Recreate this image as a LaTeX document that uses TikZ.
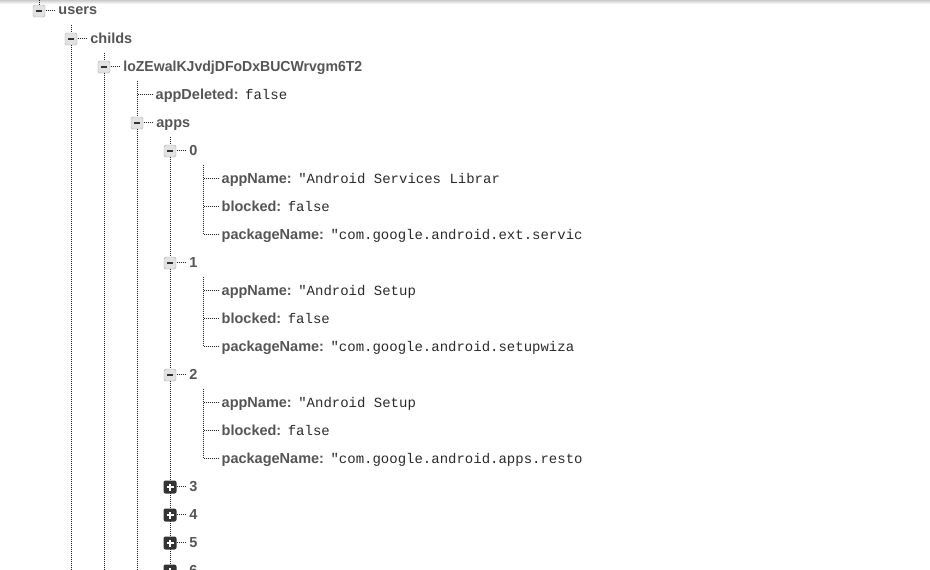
\documentclass[tikz,border=0pt]{standalone}
\usepackage{fontspec}
\setmainfont{Liberation Sans}
\newfontfamily\monofam{Liberation Mono}
\usepackage{tikz}
\usetikzlibrary{positioning}

\definecolor{keygray}{HTML}{555555}
\definecolor{valgray}{HTML}{2A2A2A}
\definecolor{dotgray}{HTML}{222222}
\definecolor{boxfill}{HTML}{E2E2E2}
\definecolor{boxline}{HTML}{AAAAAA}
\definecolor{boxdark}{HTML}{333333}

\newcommand{\fieldval}[1]{\hspace{6.5pt}{\monofam\mdseries\fontsize{14}{16}\selectfont\color{valgray}#1}}

\tikzset{
  open/.style={draw=boxline, fill=boxfill, rounded corners=1.5pt, minimum size=12pt, inner sep=0pt,
    path picture={\draw[boxdark, line width=2pt] ([xshift=-3pt]path picture bounding box.center) -- ([xshift=3pt]path picture bounding box.center);}},
  shut/.style={fill=boxdark, rounded corners=2pt, minimum size=13pt, inner sep=0pt,
    path picture={\draw[white, line width=2pt] ([xshift=-3.5pt]path picture bounding box.center) -- ([xshift=3.5pt]path picture bounding box.center);
      \draw[white, line width=2pt] ([yshift=-3.5pt]path picture bounding box.center) -- ([yshift=3.5pt]path picture bounding box.center);}},
  key/.style={inner sep=0pt, text height=11pt, text depth=3pt, text=keygray,
    font=\fontsize{14.5}{16}\selectfont\bfseries},
  guide/.style={draw=dotgray, line width=1pt, dash pattern=on 1pt off 1pt,
    transform canvas={xshift=0.5pt, yshift=0.5pt}},
  hook/.style={guide, shorten >=3pt},
}

\begin{document}
\begin{tikzpicture}[x=1pt, y=-1pt]
    \useasboundingbox (0,0) rectangle (930,570);
    \fill[top color=gray!40, bottom color=white] (0,0) rectangle (930,4);

    % upper levels
    \node(bu) [open] at (39,11) {};
    \node(tu) [key, right=13pt of bu] {users};
    \node(bc) [open] at (71,39) {};
    \node(tc) [key, right=13pt of bc] {childs};
    \node(bl) [open] at (104,67) {};
    \node(tl) [key, right=13pt of bl, xscale=0.97] {loZEwalKJvdjDFoDxBUCWrvgm6T2};
    \coordinate(ed) at (137,95);
    \node(td) [key, right=18.5pt of ed] {appDeleted:\fieldval{false}};
    \node(ba) [open] at (137,123) {};
    \node(ta) [key, right=13pt of ba] {apps};

    % app 0
    \node(b0) [open] at (170,151) {};
    \node(t0) [key, right=13pt of b0] {0};
    \coordinate(e0a) at (203,179);
    \node(t0a) [key, right=18.5pt of e0a] {appName:\fieldval{"Android Services Librar}};
    \coordinate(e0b) at (203,207);
    \node(t0b) [key, right=18.5pt of e0b] {blocked:\fieldval{false}};
    \coordinate(e0c) at (203,235);
    \node(t0c) [key, right=18.5pt of e0c] {packageName:\fieldval{"com.google.android.ext.servic}};

    % app 1
    \node(b1) [open] at (170,263) {};
    \node(t1) [key, right=13pt of b1] {1};
    \coordinate(e1a) at (203,291);
    \node(t1a) [key, right=18.5pt of e1a] {appName:\fieldval{"Android Setup}};
    \coordinate(e1b) at (203,319);
    \node(t1b) [key, right=18.5pt of e1b] {blocked:\fieldval{false}};
    \coordinate(e1c) at (203,347);
    \node(t1c) [key, right=18.5pt of e1c] {packageName:\fieldval{"com.google.android.setupwiza}};

    % app 2
    \node(b2) [open] at (170,375) {};
    \node(t2) [key, right=13pt of b2] {2};
    \coordinate(e2a) at (203,403);
    \node(t2a) [key, right=18.5pt of e2a] {appName:\fieldval{"Android Setup}};
    \coordinate(e2b) at (203,431);
    \node(t2b) [key, right=18.5pt of e2b] {blocked:\fieldval{false}};
    \coordinate(e2c) at (203,459);
    \node(t2c) [key, right=18.5pt of e2c] {packageName:\fieldval{"com.google.android.apps.resto}};

    % collapsed apps
    \node(b3) [shut] at (170,487) {};
    \node(t3) [key, right=12.5pt of b3] {3};
    \node(b4) [shut] at (170,515) {};
    \node(t4) [key, right=12.5pt of b4] {4};
    \node(b5) [shut] at (170,543) {};
    \node(t5) [key, right=12.5pt of b5] {5};
    \node(b6) [shut] at (170,571) {};
    \node(t6) [key, right=12.5pt of b6] {6};

    % column guides
    \coordinate(top) at (39,0);
    \coordinate(c1) at (71,25);
    \coordinate(c1end) at (71,575);
    \coordinate(c2) at (104,53);
    \coordinate(c2end) at (104,575);
    \coordinate(c3) at (137,81);
    \coordinate(c3end) at (137,575);
    \coordinate(c4) at (170,137);
    \coordinate(k0) at (203,165);
    \coordinate(k1) at (203,277);
    \coordinate(k2) at (203,389);

    \draw[guide] (top) -- (bu.north);
    \draw[guide] (c1) -- (bc.north);
    \draw[guide] (bc.south) -- (c1end);
    \draw[guide] (c2) -- (bl.north);
    \draw[guide] (bl.south) -- (c2end);
    \draw[guide] (c3) -- (ed) -- (ba.north);
    \draw[guide] (ba.south) -- (c3end);
    \draw[guide] (c4) -- (b0.north);
    \draw[guide] (b0.south) -- (b1.north);
    \draw[guide] (b1.south) -- (b2.north);
    \draw[guide] (b2.south) -- (b3.north);
    \draw[guide] (b3.south) -- (b4.north);
    \draw[guide] (b4.south) -- (b5.north);
    \draw[guide] (b5.south) -- (b6.north);
    \draw[guide] (k0) -- (e0a) -- (e0b) -- (e0c);
    \draw[guide] (k1) -- (e1a) -- (e1b) -- (e1c);
    \draw[guide] (k2) -- (e2a) -- (e2b) -- (e2c);

    % hooks to the labels
    \draw[hook] (bu.east) -- (tu.west);
    \draw[hook] (bc.east) -- (tc.west);
    \draw[hook] (bl.east) -- (tl.west);
    \draw[hook] (ed) -- (td.west);
    \draw[hook] (ba.east) -- (ta.west);
    \draw[hook] (b0.east) -- (t0.west);
    \draw[hook] (e0a) -- (t0a.west);
    \draw[hook] (e0b) -- (t0b.west);
    \draw[hook] (e0c) -- (t0c.west);
    \draw[hook] (b1.east) -- (t1.west);
    \draw[hook] (e1a) -- (t1a.west);
    \draw[hook] (e1b) -- (t1b.west);
    \draw[hook] (e1c) -- (t1c.west);
    \draw[hook] (b2.east) -- (t2.west);
    \draw[hook] (e2a) -- (t2a.west);
    \draw[hook] (e2b) -- (t2b.west);
    \draw[hook] (e2c) -- (t2c.west);
    \draw[hook] (b3.east) -- (t3.west);
    \draw[hook] (b4.east) -- (t4.west);
    \draw[hook] (b5.east) -- (t5.west);
    \draw[hook] (b6.east) -- (t6.west);
\end{tikzpicture}
\end{document}
